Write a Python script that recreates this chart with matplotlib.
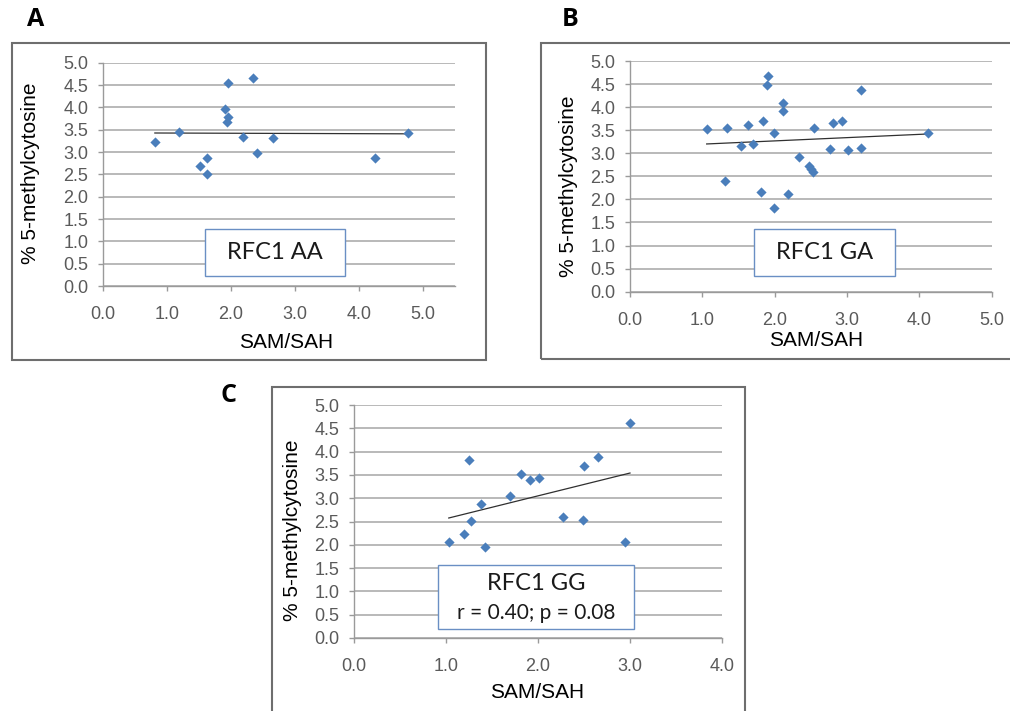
import numpy as np
import matplotlib
matplotlib.use("Agg")
import matplotlib.pyplot as plt
from matplotlib.patches import Rectangle

# SAM/SAH vs % 5-methylcytosine, RFC1 genotypes
aa_x = [0.81, 1.18, 1.51, 1.63, 1.62, 1.95, 1.91, 1.96, 1.94, 2.35, 2.19, 2.41, 2.66, 4.25, 4.76]
aa_y = [3.22, 3.44, 2.69, 2.87, 2.51, 4.54, 3.97, 3.79, 3.68, 4.66, 3.33, 2.98, 3.32, 2.87, 3.42]

ga_x = [1.06, 1.34, 1.31, 1.53, 1.63, 1.70, 1.84, 1.81, 1.91, 1.90, 1.99, 1.99, 2.11, 2.11,
        2.18, 2.34, 2.47, 2.50, 2.53, 2.54, 2.77, 2.81, 2.93, 3.02, 3.19, 3.19, 4.12]
ga_y = [3.53, 3.54, 2.40, 3.16, 3.61, 3.20, 3.71, 2.15, 4.67, 4.47, 3.44, 1.82, 4.08, 3.92,
        2.12, 2.93, 2.73, 2.65, 2.60, 3.54, 3.09, 3.66, 3.71, 3.07, 4.37, 3.11, 3.45]

gg_x = [1.03, 1.20, 1.25, 1.27, 1.38, 1.42, 1.70, 1.82, 1.91, 2.01, 2.27, 2.50, 2.49, 2.65, 2.95, 3.00]
gg_y = [2.07, 2.23, 3.83, 2.52, 2.88, 1.95, 3.05, 3.51, 3.39, 3.44, 2.59, 3.70, 2.54, 3.88, 2.05, 4.61]

y_ticks = np.arange(0, 5.01, 0.5)

fig = plt.figure(figsize=(10.1, 7.11), dpi=100)
W, H = 1010, 711


def px_box(x0, y0, x1, y1):
    # pixel box (top-left origin) -> figure fraction
    return [x0 / W, 1 - y1 / H, (x1 - x0) / W, (y1 - y0) / H]


def panel(rect, ax_rect, xs, ys, xmax, xticks, letter, letter_xy, ylab_xy, xlab_xy,
          box, box_lines):
    # outer frame
    fx, fy, fw, fh = px_box(*rect)
    fig.patches.append(Rectangle((fx, fy), fw, fh, transform=fig.transFigure,
                                 fill=False, edgecolor="#6e6e6e", linewidth=1.5))
    fig.text(letter_xy[0] / W, 1 - letter_xy[1] / H, letter, fontsize=18,
             fontweight="bold", family="Open Sans", ha="center", va="center")

    ax = fig.add_axes(px_box(*ax_rect))
    ax.set_xlim(0, xmax)
    ax.set_ylim(0, 5.0)
    ax.set_yticks(y_ticks)
    ax.set_yticklabels([f"{v:.1f}" for v in y_ticks])
    ax.set_xticks(xticks)
    ax.set_xticklabels([f"{v:.1f}" for v in xticks])
    ax.grid(axis="y", color="#a6a6a6", linewidth=1.1)
    ax.set_axisbelow(True)
    for s in ["top", "right"]:
        ax.spines[s].set_visible(False)
    for s in ["left", "bottom"]:
        ax.spines[s].set_color("#9a9a9a")
        ax.spines[s].set_linewidth(1.0)
    ax.tick_params(axis="both", colors="#9a9a9a", labelcolor="#5a5a5a",
                   labelsize=13, length=3.6, width=1.0, direction="out")
    ax.tick_params(axis="y", pad=7)
    ax.tick_params(axis="x", pad=11)
    for lab in ax.get_xticklabels() + ax.get_yticklabels():
        lab.set_family("Liberation Sans")

    ax.scatter(xs, ys, marker="D", s=5.2 ** 2, color="#4a7ebb", zorder=3, linewidths=0)
    k, b = np.polyfit(xs, ys, 1)
    xl = np.array([min(xs), max(xs)])
    ax.plot(xl, k * xl + b, color="#303030", linewidth=0.9, zorder=2)

    ax.set_ylabel("% 5-methylcytosine", fontsize=15, family="Liberation Sans",
                  va="center")
    ax.set_xlabel("SAM/SAH", fontsize=15, family="Liberation Sans", va="center")
    x0, y0, x1, y1 = ax_rect
    ax.yaxis.set_label_coords((ylab_xy[0] - x0) / (x1 - x0), (y1 - ylab_xy[1]) / (y1 - y0))
    ax.xaxis.set_label_coords((xlab_xy[0] - x0) / (x1 - x0), (y1 - xlab_xy[1]) / (y1 - y0))

    # genotype label box
    bx, by, bw, bh = px_box(*box)
    fig.patches.append(Rectangle((bx, by), bw, bh, transform=fig.transFigure,
                                 facecolor="white", edgecolor="#6a8fc4", linewidth=1.0,
                                 zorder=5))
    for txt, ty, size in box_lines:
        fig.text((box[0] + box[2]) / 2 / W, 1 - ty / H, txt, fontsize=size,
                 family="Lato", ha="center", va="center", color="#1a1a1a", zorder=6)
    return ax


panel((12, 43, 486, 360), (103, 62.7, 455, 286), aa_x, aa_y, 5.5, np.arange(0, 5.01, 1.0),
      "A", (36, 20), (30, 173), (286, 342),
      (205, 229, 345, 276), [("RFC1 AA", 253, 17)])

panel((541, 43, 1013, 359), (630, 61, 991.7, 291.7), ga_x, ga_y, 5.0, np.arange(0, 5.01, 1.0),
      "B", (570, 20), (569, 186), (816, 341),
      (754, 229, 895, 276), [("RFC1 GA", 253, 17)])

panel((272, 387, 745, 720), (354, 405, 722, 638), gg_x, gg_y, 4.0, np.arange(0, 4.01, 1.0),
      "C", (228, 396), (292, 530), (537, 693),
      (438, 565, 634, 629), [("RFC1 GG", 583, 17), ("r = 0.40; p = 0.08", 613, 15)])

fig.savefig("out.png", dpi=100)
